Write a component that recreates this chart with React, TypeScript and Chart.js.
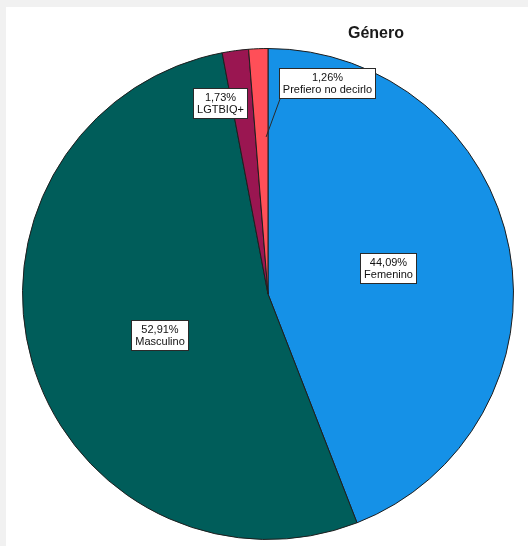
import React, { useEffect, useRef } from "react";
import { Chart, registerables } from "chart.js";

Chart.register(...registerables);

const categories = ["Femenino", "Masculino", "LGTBIQ+", "Prefiero no decirlo"];
const percentages = [44.09, 52.91, 1.73, 1.26];
const sliceColors = ["#1591E7", "#005D5A", "#9A1651", "#FF4F58"];
const chartTitle = "Género";

// label placement: fraction of radius and angular offset (degrees) from slice mid-angle
const labelRadius = [0.5, 0.47, 0.8, 0.89];
const labelAngleOffset = [-1.4, -5, -6.3, 18];
const leaderRadius = [0, 0, 0, 0.64];

const fmt = (v: number) => v.toFixed(2).replace(".", ",") + "%";

const labelPlugin = {
  id: "spssLabels",
  beforeDraw(chart: any) {
    const { ctx, width, height } = chart;
    ctx.save();
    ctx.fillStyle = "#f1f1f1";
    ctx.fillRect(0, 0, width, height);
    ctx.fillStyle = "#ffffff";
    ctx.fillRect(6, 7, width - 6, height - 7);
    ctx.restore();
  },
  afterDraw(chart: any) {
    const { ctx } = chart;
    const meta = chart.getDatasetMeta(0);
    ctx.save();
    // title
    ctx.font = "bold 16px 'Liberation Sans', Arial, sans-serif";
    ctx.fillStyle = "#1a1a1a";
    ctx.textAlign = "center";
    ctx.textBaseline = "middle";
    ctx.fillText(chartTitle, 376, 34);

    ctx.font = "11px 'Liberation Sans', Arial, sans-serif";
    meta.data.forEach((arc: any, i: number) => {
      const p = arc.getProps(["x", "y", "startAngle", "endAngle", "outerRadius"], true);
      const mid = (p.startAngle + p.endAngle) / 2;
      const ang = mid + (labelAngleOffset[i] * Math.PI) / 180;
      const cx = p.x + Math.cos(ang) * p.outerRadius * labelRadius[i];
      const cy = p.y + Math.sin(ang) * p.outerRadius * labelRadius[i];
      const lines = [fmt(percentages[i]), categories[i]];
      const tw = Math.max(...lines.map((l) => ctx.measureText(l).width));
      const w = Math.round(tw + 8);
      const h = 31;
      const x0 = Math.round(cx - w / 2);
      const y0 = Math.round(cy - h / 2);
      if (leaderRadius[i] > 0) {
        const la = p.startAngle * 0.15 + p.endAngle * 0.85;
        const ax = p.x + Math.cos(la) * p.outerRadius * leaderRadius[i];
        const ay = p.y + Math.sin(la) * p.outerRadius * leaderRadius[i];
        ctx.strokeStyle = "#2a2a2a";
        ctx.lineWidth = 1;
        ctx.beginPath();
        ctx.moveTo(x0 + 1, y0 + h);
        ctx.lineTo(ax, ay);
        ctx.stroke();
      }
      ctx.fillStyle = "#ffffff";
      ctx.fillRect(x0, y0, w, h);
      ctx.strokeStyle = "#2a2a2a";
      ctx.lineWidth = 1;
      ctx.strokeRect(x0 + 0.5, y0 + 0.5, w - 1, h - 1);
      ctx.fillStyle = "#111111";
      ctx.textAlign = "center";
      ctx.textBaseline = "middle";
      ctx.fillText(lines[0], x0 + w / 2, y0 + h / 2 - 6);
      ctx.fillText(lines[1], x0 + w / 2, y0 + h / 2 + 6);
    });
    ctx.restore();
  },
};

export default function App() {
  const ref = useRef<HTMLCanvasElement | null>(null);
  useEffect(() => {
    if (!ref.current) return;
    const chart = new Chart(ref.current, {
      type: "pie",
      data: {
        labels: categories,
        datasets: [
          {
            data: percentages,
            backgroundColor: sliceColors,
            borderColor: "#1e1e1e",
            borderWidth: 1,
          },
        ],
      },
      options: {
        responsive: false,
        animation: false,
        layout: { padding: { left: 22, right: 14, top: 47, bottom: 5 } },
        plugins: {
          legend: { display: false },
          tooltip: { enabled: false },
          title: { display: false },
        },
      },
      plugins: [labelPlugin],
    });
    return () => chart.destroy();
  }, []);
  return (
    <div style={{ position: "fixed", left: 0, top: 0, width: 528, height: 546 }}>
      <canvas ref={ref} width={528} height={546} style={{ display: "block" }} />
    </div>
  );
}
